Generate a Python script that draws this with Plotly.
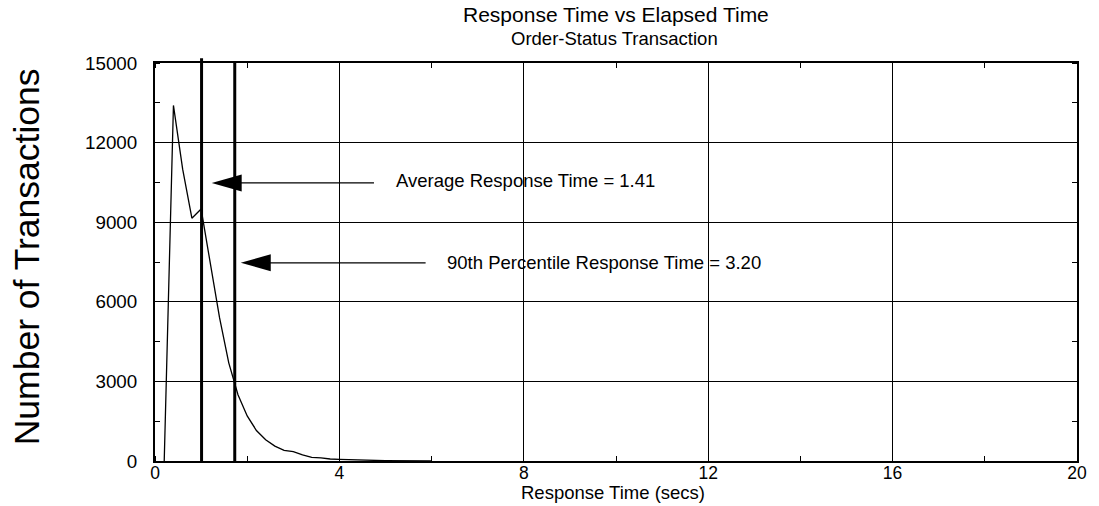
import plotly.graph_objects as go

# ---------------- data ----------------
resp_time = [0.2, 0.4, 0.6, 0.8, 1.0, 1.2, 1.4, 1.6, 1.8, 2.0,
             2.2, 2.4, 2.6, 2.8, 3.0, 3.2, 3.4, 3.6, 3.8, 4.0,
             4.2, 4.4, 4.6, 4.8, 5.0, 5.2, 5.4, 5.6, 5.8, 6.0]
num_trans = [0, 13400, 11000, 9150, 9500, 7400, 5400, 3700, 2500, 1700,
             1150, 800, 560, 400, 350, 230, 140, 120, 75, 60,
             45, 35, 28, 22, 17, 13, 10, 7, 5, 3]

marker_lines_x = [1.01, 1.73]          # vertical reference lines
marker_lines_top = [1.012, 1.0]        # paper fraction of top end

arrow_labels = ["Average Response Time = 1.41",
                "90th Percentile Response Time = 3.20"]
arrow_tip_x = [1.23, 1.86]
arrow_tail_x = [4.75, 5.87]
arrow_y = [10480, 7470]
label_x = [5.18, 6.28]
label_y = [10560, 7500]

x_ticks = [0, 4, 8, 12, 16, 20]
y_ticks = [0, 3000, 6000, 9000, 12000, 15000]

FONT = "Liberation Sans, Arial, sans-serif"

fig = go.Figure()
fig.add_trace(go.Scatter(x=resp_time, y=num_trans, mode="lines",
                         line=dict(color="black", width=1.3),
                         showlegend=False, hoverinfo="skip"))

shapes = []
for xv, top in zip(marker_lines_x, marker_lines_top):
    shapes.append(dict(type="line", xref="x", yref="paper", x0=xv, x1=xv,
                       y0=0, y1=top, line=dict(color="black", width=3),
                       layer="above"))
for tx, ax, yv in zip(arrow_tip_x, arrow_tail_x, arrow_y):
    shapes.append(dict(type="line", xref="x", yref="y", x0=tx + 0.3, x1=ax,
                       y0=yv, y1=yv, line=dict(color="black", width=1.3)))
    shapes.append(dict(type="path", xref="x", yref="y",
                       xsizemode="pixel", ysizemode="pixel",
                       xanchor=tx, yanchor=yv,
                       path="M0,0 L30,8.5 L30,-8.5 Z",
                       fillcolor="black", line=dict(width=0)))

annotations = []
for txt, lx, ly in zip(arrow_labels, label_x, label_y):
    annotations.append(dict(text=txt, x=lx, y=ly, xref="x", yref="y",
                            xanchor="left", yanchor="middle", showarrow=False,
                            font=dict(size=18.5, color="black", family=FONT)))

annotations += [
    dict(text="Response Time vs Elapsed Time", xref="paper", yref="paper",
         x=0.5005, y=1.1215, xanchor="center", yanchor="middle",
         showarrow=False, font=dict(size=21, color="black", family=FONT)),
    dict(text="Order-Status Transaction", xref="paper", yref="paper",
         x=0.498, y=1.062, xanchor="center", yanchor="middle",
         showarrow=False, font=dict(size=18.5, color="black", family=FONT)),
    dict(text="Response Time (secs)", xref="paper", yref="paper",
         x=0.4965, y=-0.079, xanchor="center", yanchor="middle",
         showarrow=False, font=dict(size=18.5, color="black", family=FONT)),
    dict(text="Number of Transactions", xref="paper", yref="paper",
         x=-0.1385, y=0.5126, xanchor="center", yanchor="middle",
         textangle=-90, showarrow=False,
         font=dict(size=35.5, color="black", family=FONT)),
]

fig.update_xaxes(range=[0, 20], tickvals=x_ticks, ticktext=[str(v) for v in x_ticks],
                 showgrid=True, gridcolor="black", gridwidth=1.3,
                 showline=True, linecolor="black", linewidth=2, mirror="ticks",
                 ticks="", zeroline=False, ticklabelstandoff=-5,
                 tickfont=dict(size=17.5, color="black", family=FONT),
                 minor=dict(dtick=2, tick0=0, ticks="inside", ticklen=5,
                            tickcolor="black", tickwidth=1.3, showgrid=False))
fig.update_yaxes(range=[0, 15000], tickvals=y_ticks, ticktext=[str(v) for v in y_ticks],
                 showgrid=True, gridcolor="black", gridwidth=1.3,
                 showline=True, linecolor="black", linewidth=2, mirror="ticks",
                 ticks="", zeroline=False, ticklabelstandoff=12,
                 tickfont=dict(size=18.8, color="black", family=FONT),
                 minor=dict(dtick=1500, tick0=0, ticks="inside", ticklen=5,
                            tickcolor="black", tickwidth=1.3, showgrid=False))

fig.update_layout(width=1099, height=506,
                  margin=dict(l=155, r=16, t=63, b=45),
                  paper_bgcolor="white", plot_bgcolor="white",
                  font=dict(family=FONT, color="black"),
                  shapes=shapes, annotations=annotations, showlegend=False)

fig.write_html("out.html")
